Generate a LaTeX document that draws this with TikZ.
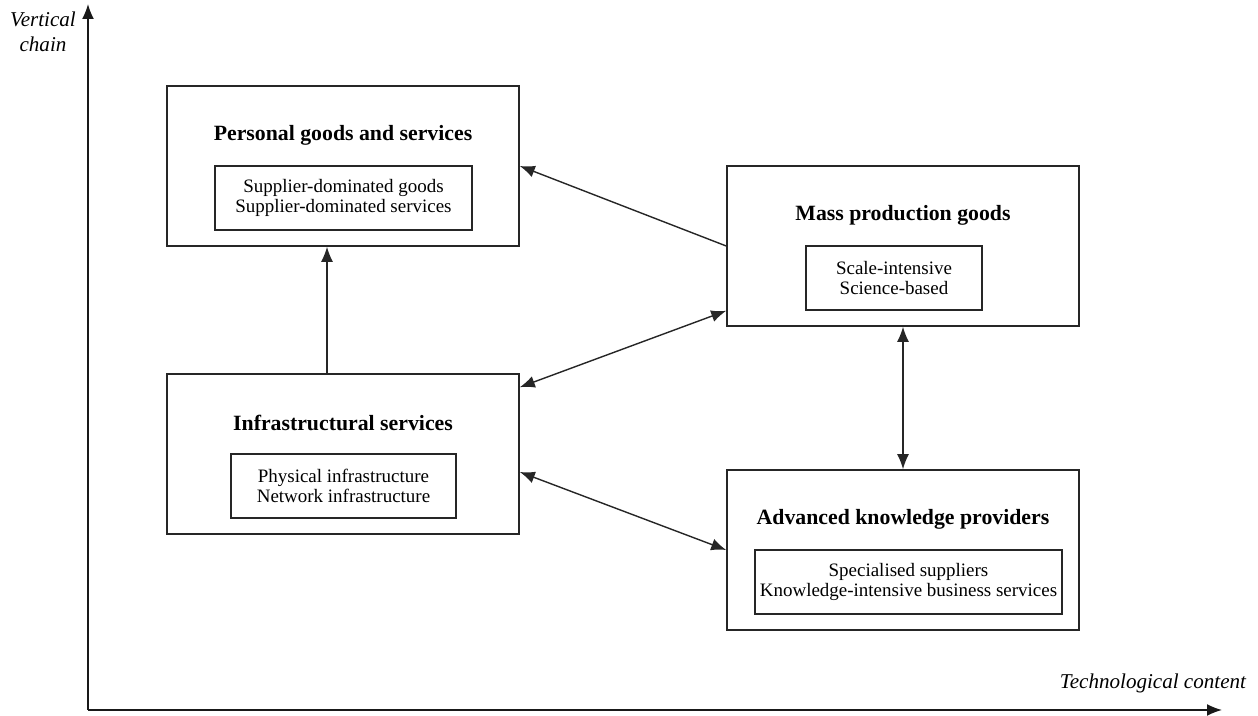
\documentclass[tikz,border=0pt]{standalone}
\usepackage{fontspec}
\setmainfont{Liberation Serif}
\usetikzlibrary{arrows.meta, positioning, calc}
\tikzset{
  outer_box/.style={rectangle, draw=black!85, line width=0.9pt, minimum width=7.04cm, minimum height=3.2cm},
  inner_box/.style={rectangle, draw=black!85, line width=0.9pt, minimum height=1.28cm, align=center, inner sep=0pt, font=\fontsize{10.8}{11.6}\selectfont},
  title_text/.style={font=\fontsize{12.4}{14}\selectfont\bfseries},
  axis_label/.style={font=\fontsize{12}{14}\selectfont\itshape, align=center},
  axis_style/.style={-{Latex[length=3mm, width=2.4mm]}, line width=0.9pt, black!90},
  arrow/.style={-{Latex[length=3mm, width=2.4mm]}, line width=0.8pt, black!85},
  twoway/.style={{Latex[length=3mm, width=2.4mm]}-{Latex[length=3mm, width=2.4mm]}, line width=0.8pt, black!85}
}

\begin{document}
\begin{tikzpicture}
    \useasboundingbox (0,0) rectangle (25.16,14.32);

    % Axes
    \coordinate (origin) at (1.76, 0.12);
    \coordinate (v_end) at (1.76, 14.24);
    \coordinate (h_end) at (24.44, 0.12);
    \draw[axis_style] (origin) -- (v_end);
    \draw[axis_style] (origin) -- (h_end);
    \node[axis_label] (v_label) at (0.86, 13.68) {Vertical\\chain};
    \node[axis_label] (h_label) at (23.06, 0.66) {Technological content};

    % Sector boxes, absolute positioning
    \node[outer_box] (personal) at (6.86, 11.00) {};
    \node[title_text] (personal_title) at (6.86, 11.62) {Personal goods and services};
    \node[inner_box, minimum width=5.14cm] (personal_sub) at (6.87, 10.36) {Supplier-dominated goods\\Supplier-dominated services};

    \node[outer_box] (mass) at (18.06, 9.40) {};
    \node[title_text] (mass_title) at (18.06, 10.02) {Mass production goods};
    \node[inner_box, minimum width=3.52cm] (mass_sub) at (17.88, 8.76) {Scale-intensive\\Science-based};

    \node[outer_box] (infra) at (6.86, 5.24) {};
    \node[title_text] (infra_title) at (6.86, 5.86) {Infrastructural services};
    \node[inner_box, minimum width=4.5cm] (infra_sub) at (6.87, 4.60) {Physical infrastructure\\Network infrastructure};

    \node[outer_box] (advanced) at (18.06, 3.32) {};
    \node[title_text] (advanced_title) at (18.06, 3.94) {Advanced knowledge providers};
    \node[inner_box, minimum width=6.14cm] (advanced_sub) at (18.17, 2.68) {Specialised suppliers\\Knowledge-intensive business services};

    % Links between the sectors
    \draw[arrow] ($(infra.north)+(-0.32,0)$) -- ($(personal.south)+(-0.32,0)$);
    \draw[arrow] (mass.west) -- (personal.east);
    \draw[twoway] ($(infra.north east)+(0,-0.28)$) -- ($(mass.south west)+(0,0.32)$);
    \draw[twoway] (mass.south) -- (advanced.north);
    \draw[twoway] ($(infra.east)+(0,-0.36)$) -- (advanced.west);
\end{tikzpicture}
\end{document}
